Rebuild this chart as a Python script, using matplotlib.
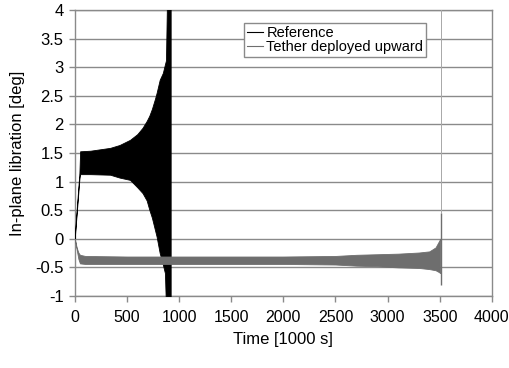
import matplotlib
matplotlib.use('Agg')
import matplotlib.pyplot as plt

# Envelope of the reference run (oscillation band), time in 1000 s, angle in deg
ref_t = [0, 45, 52, 150, 340, 430, 530, 600, 650, 690, 715, 740, 770, 785, 815, 845, 865, 875, 885, 920]
ref_upper = [0.05, 1.15, 1.53, 1.54, 1.59, 1.64, 1.73, 1.83, 1.94, 2.06, 2.15, 2.27, 2.45, 2.55,
             2.78, 2.90, 3.05, 3.12, 4.20, 4.20]
ref_lower = [0.00, 1.05, 1.13, 1.13, 1.12, 1.07, 1.03, 0.90, 0.80, 0.67, 0.51, 0.37, 0.15, 0.04,
             -0.25, -0.45, -0.60, -1.20, -1.20, -1.20]

# Envelope of the upward-deployed tether run
up_t = [0, 10, 20, 35, 50, 100, 500, 1000, 1500, 2000, 2500, 2700, 2900, 3100, 3300, 3400, 3460, 3490, 3505]
up_upper = [0.00, -0.08, -0.16, -0.24, -0.28, -0.30, -0.31, -0.31, -0.31, -0.31, -0.30, -0.28, -0.27,
            -0.26, -0.24, -0.22, -0.15, -0.05, 0.00]
up_lower = [0.00, -0.10, -0.20, -0.35, -0.43, -0.44, -0.44, -0.44, -0.44, -0.44, -0.45, -0.47, -0.48,
            -0.50, -0.51, -0.53, -0.55, -0.58, -0.60]

# final transient of the upward run
spike_t = 3510
spike_low = -0.8
spike_high = 0.45
escape_top = 4.2

xticks = [0, 500, 1000, 1500, 2000, 2500, 3000, 3500, 4000]
yticks = [-1, -0.5, 0, 0.5, 1, 1.5, 2, 2.5, 3, 3.5, 4]

black = '#000000'
gray = '#6e6e6e'
grid_c = '#8a8a8a'

plt.rcParams['font.family'] = ['Liberation Sans', 'DejaVu Sans']

fig = plt.figure(figsize=(5.1, 3.68), dpi=100)
ax = fig.add_axes([0.1465, 0.1957, 0.8180, 0.7771])

ax.fill_between(ref_t, ref_lower, ref_upper, color=black, lw=0.6, zorder=3)
ax.fill_between(up_t, up_lower, up_upper, color=gray, lw=0.6, zorder=4)
ax.vlines(spike_t, spike_high, escape_top, color='#a8a8a8', lw=0.7, zorder=4)
ax.vlines(spike_t, spike_low, spike_high, color=gray, lw=1.0, zorder=4)

# legend handles
ax.plot([], [], color=black, lw=0.8, label='Reference')
ax.plot([], [], color=gray, lw=0.8, label='Tether deployed upward')

ax.set_xlim(0, 4000)
ax.set_ylim(-1, 4)
ax.set_xticks(xticks)
ax.set_yticks(yticks)
ax.set_yticklabels([f'{v:g}' for v in yticks])
ax.yaxis.grid(True, color=grid_c, lw=1.0, zorder=1)
ax.set_axisbelow(True)

for side in ['left', 'bottom', 'right', 'top']:
    ax.spines[side].set_color(grid_c)
    ax.spines[side].set_linewidth(1.0)
ax.tick_params(direction='out', length=4, width=1.0, color=grid_c,
               labelsize=12, pad=4)
ax.tick_params(axis='x', pad=6, labelsize=11.5)

ax.set_xlabel('Time [1000 s]', fontsize=12, labelpad=5)
ax.set_ylabel('In-plane libration [deg]', fontsize=12, labelpad=7)

leg = ax.legend(loc='upper left', bbox_to_anchor=(0.405, 0.955), borderaxespad=0,
                fontsize=10.5, frameon=True, fancybox=False, handlelength=1.1,
                handletextpad=0.25, labelspacing=0.0, borderpad=0.2)
leg.get_frame().set_edgecolor(grid_c)
leg.get_frame().set_linewidth(1.0)
leg.get_frame().set_facecolor('white')
leg.get_frame().set_alpha(1)

fig.savefig('out.png', dpi=100)
